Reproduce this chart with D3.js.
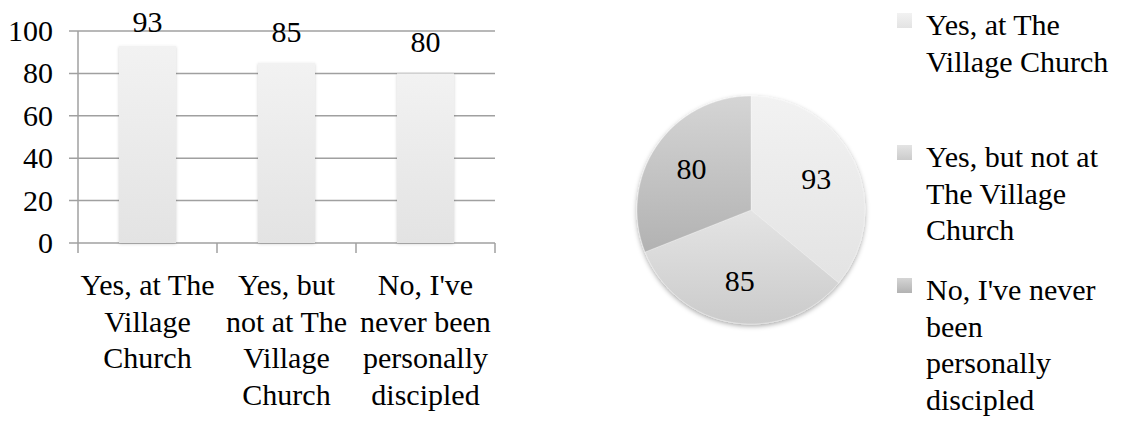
<!DOCTYPE html>
<html>
<head>
<meta charset="utf-8">
<script src="https://cdn.jsdelivr.net/npm/d3@7"></script>
<style>
  html, body { margin: 0; padding: 0; background: #fff; }
  svg { display: block; }
</style>
</head>
<body>
<svg id="chart" width="1125" height="423"></svg>
<script>
// ---- data ----
const categories = [
  "Yes, at The Village Church",
  "Yes, but not at The Village Church",
  "No, I've never been personally discipled"
];
const values = [93, 85, 80];
const axisLabelLines = [
  ["Yes, at The", "Village", "Church"],
  ["Yes, but", "not at The", "Village", "Church"],
  ["No, I've", "never been", "personally", "discipled"]
];
const legendLabelLines = [
  ["Yes, at The", "Village Church"],
  ["Yes, but not at", "The Village", "Church"],
  ["No, I've never", "been", "personally", "discipled"]
];
const yTicks = [0, 20, 40, 60, 80, 100];
const sliceColors = [
  ["#f2f2f2", "#e3e3e3"],
  ["#e4e4e4", "#cbcbcb"],
  ["#d5d5d5", "#b2b2b2"]
];

// ---- font detection ----
function pickFont(cands) {
  const c = document.createElement("canvas").getContext("2d");
  const s = "Yes, at The Village Church 1234567890";
  const base = {};
  ["monospace", "sans-serif"].forEach(b => { c.font = "30px " + b; base[b] = c.measureText(s).width; });
  for (const f of cands) {
    let ok = false;
    for (const b of ["monospace", "sans-serif"]) {
      c.font = `30px "${f}", ${b}`;
      if (Math.abs(c.measureText(s).width - base[b]) > 0.5) ok = true;
    }
    if (ok) return `"${f}", serif`;
  }
  return "serif";
}
const FAMILY = pickFont(["Liberation Serif", "Tinos", "Times New Roman", "Times", "Nimbus Roman", "Nimbus Roman No9 L", "FreeSerif", "Noto Serif", "DejaVu Serif"]);

// ---- setup ----
const svg = d3.select("#chart");
const defs = svg.append("defs");
const FONT = 30;

sliceColors.forEach((c, i) => {
  const g = defs.append("linearGradient").attr("id", "sg" + i)
    .attr("x1", 0).attr("y1", 0).attr("x2", 0).attr("y2", 1);
  g.append("stop").attr("offset", "0%").attr("stop-color", c[0]);
  g.append("stop").attr("offset", "100%").attr("stop-color", c[1]);
});
const bg = defs.append("linearGradient").attr("id", "barGrad")
  .attr("x1", 0).attr("y1", 0).attr("x2", 0).attr("y2", 1);
bg.append("stop").attr("offset", "0%").attr("stop-color", "#f2f2f2");
bg.append("stop").attr("offset", "100%").attr("stop-color", "#e3e3e3");

const sh = defs.append("filter").attr("id", "shadow")
  .attr("x", "-20%").attr("y", "-20%").attr("width", "140%").attr("height", "140%");
sh.append("feDropShadow").attr("dx", 0).attr("dy", 2).attr("stdDeviation", 2.5)
  .attr("flood-color", "#000").attr("flood-opacity", 0.35);
const bsh = defs.append("filter").attr("id", "barShadow")
  .attr("x", "-20%").attr("y", "-5%").attr("width", "140%").attr("height", "110%");
bsh.append("feDropShadow").attr("dx", 0).attr("dy", 1).attr("stdDeviation", 1.5)
  .attr("flood-color", "#000").attr("flood-opacity", 0.18);

const root = svg.append("g").style("font-family", FAMILY);

// ---- bar chart ----
const plot = { left: 78, right: 495, top: 31, bottom: 243 };
const x = d3.scaleBand().domain(categories).range([plot.left, plot.right]).padding(0);
const y = d3.scaleLinear().domain([0, 100]).range([plot.bottom, plot.top]);
const barW = x.bandwidth() * 0.41;
const lineColor = "#a0a0a0";

root.append("g").selectAll("line").data(yTicks).join("line")
  .attr("x1", plot.left - 9).attr("x2", plot.right)
  .attr("y1", d => y(d)).attr("y2", d => y(d))
  .attr("stroke", lineColor).attr("stroke-width", 1.5);

root.append("line")
  .attr("x1", plot.left).attr("x2", plot.left)
  .attr("y1", y(100)).attr("y2", y(0))
  .attr("stroke", lineColor).attr("stroke-width", 1.5);

const edges = categories.map(c => x(c)).concat([x(categories[categories.length - 1]) + x.bandwidth()]);
root.append("g").selectAll("line").data(edges).join("line")
  .attr("x1", d => d).attr("x2", d => d)
  .attr("y1", y(0)).attr("y2", y(0) + 10)
  .attr("stroke", lineColor).attr("stroke-width", 1.5);

root.append("g").selectAll("text").data(yTicks).join("text")
  .attr("x", 53).attr("y", d => y(d) + 10)
  .attr("text-anchor", "end").attr("font-size", FONT).attr("fill", "#000")
  .style("font-family", FAMILY)
  .text(d => d);

root.append("g").selectAll("rect").data(values).join("rect")
  .attr("x", (d, i) => x(categories[i]) + (x.bandwidth() - barW) / 2)
  .attr("width", barW)
  .attr("y", d => y(d))
  .attr("height", d => y(0) - y(d))
  .attr("fill", "url(#barGrad)")
  .attr("filter", "url(#barShadow)");

root.append("g").selectAll("text").data(values).join("text")
  .attr("x", (d, i) => x(categories[i]) + x.bandwidth() / 2)
  .attr("y", d => Math.max(y(d) - 21, 32))
  .attr("text-anchor", "middle").attr("font-size", FONT).attr("fill", "#000")
  .style("font-family", FAMILY)
  .text(d => d);

const catG = root.append("g").selectAll("text").data(axisLabelLines).join("text")
  .attr("text-anchor", "middle").attr("font-size", FONT).attr("fill", "#000")
  .style("font-family", FAMILY);
catG.each(function(lines, i) {
  const cx = x(categories[i]) + x.bandwidth() / 2;
  d3.select(this).selectAll("tspan").data(lines).join("tspan")
    .attr("x", cx).attr("y", (d, j) => 295 + j * 36.5).text(d => d);
});

// ---- pie chart ----
const cx = 751, cy = 210, R = 114;
const pie = d3.pie().sort(null).value(d => d)(values);
const arc = d3.arc().innerRadius(0).outerRadius(R);
const labelArc = d3.arc().innerRadius(72).outerRadius(72);
const pg = root.append("g").attr("transform", `translate(${cx},${cy})`);
pg.append("g").attr("filter", "url(#shadow)")
  .selectAll("path").data(pie).join("path")
  .attr("d", arc)
  .attr("fill", (d, i) => `url(#sg${i})`)
  .attr("stroke", "#ffffff").attr("stroke-opacity", 0.35).attr("stroke-width", 0.8);
pg.selectAll("text").data(pie).join("text")
  .attr("transform", d => `translate(${labelArc.centroid(d)})`)
  .attr("text-anchor", "middle").attr("dy", "0.33em")
  .attr("font-size", FONT).attr("fill", "#000")
  .style("font-family", FAMILY)
  .text(d => d.data);

// ---- legend ----
const legendStart = [35, 167, 300];
const lg = root.append("g");
legendLabelLines.forEach((lines, i) => {
  const by = legendStart[i];
  lg.append("rect").attr("x", 897).attr("y", by - 22).attr("width", 15).attr("height", 15)
    .attr("fill", `url(#sg${i})`);
  const t = lg.append("text").attr("font-size", FONT).attr("fill", "#000")
    .style("font-family", FAMILY);
  t.selectAll("tspan").data(lines).join("tspan")
    .attr("x", 926).attr("y", (d, j) => by + j * 36.7).text(d => d);
});
</script>
</body>
</html>
